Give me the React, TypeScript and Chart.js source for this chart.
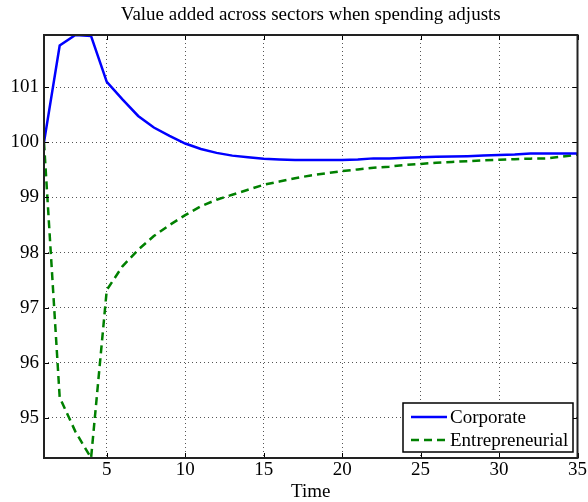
import React, { useEffect, useRef } from "react";
import { Chart, registerables } from "chart.js";

Chart.register(...registerables);

const TITLE = "Value added across sectors when spending adjusts";
const X_LABEL = "Time";
const periods = Array.from({ length: 35 }, (_, i) => i + 1);
const corporate = [
  100, 101.76, 101.95, 101.93, 101.1, 100.78, 100.48, 100.27, 100.12, 99.98,
  99.88, 99.81, 99.76, 99.73, 99.705, 99.69, 99.68, 99.68, 99.68, 99.68,
  99.69, 99.71, 99.71, 99.72, 99.73, 99.74, 99.745, 99.75, 99.76, 99.77,
  99.78, 99.8, 99.8, 99.8, 99.8,
];
const entrepreneurial = [
  100, 95.37, 94.75, 94.27, 97.32, 97.75, 98.05, 98.3, 98.5, 98.68,
  98.84, 98.96, 99.05, 99.14, 99.23, 99.29, 99.35, 99.4, 99.44, 99.48,
  99.51, 99.54, 99.56, 99.59, 99.61, 99.63, 99.645, 99.66, 99.675, 99.685,
  99.695, 99.705, 99.71, 99.74, 99.78,
];
const xTicks = [5, 10, 15, 20, 25, 30, 35];
const yTicks = [95, 96, 97, 98, 99, 100, 101];
const Y_MIN = 94.27;
const Y_MAX = 101.95;

const FONT = "'Liberation Serif', 'Times New Roman', serif";
const FS = 19;

const framePlugin = {
  id: "frame",
  afterDatasetsDraw(chart: any) {
    const { ctx, chartArea: a, scales } = chart;
    ctx.save();
    // inward tick marks
    ctx.strokeStyle = "#000";
    ctx.lineWidth = 1;
    ctx.setLineDash([]);
    const tl = 5;
    for (const v of xTicks) {
      const x = Math.round(scales.x.getPixelForValue(v)) + 0.5;
      ctx.beginPath();
      ctx.moveTo(x, a.bottom);
      ctx.lineTo(x, a.bottom - tl);
      ctx.moveTo(x, a.top);
      ctx.lineTo(x, a.top + tl);
      ctx.stroke();
    }
    for (const v of yTicks) {
      const y = Math.round(scales.y.getPixelForValue(v)) + 0.5;
      ctx.beginPath();
      ctx.moveTo(a.left, y);
      ctx.lineTo(a.left + tl, y);
      ctx.moveTo(a.right, y);
      ctx.lineTo(a.right - tl, y);
      ctx.stroke();
    }
    // frame
    ctx.lineWidth = 2;
    ctx.strokeStyle = "#222";
    ctx.strokeRect(a.left, a.top, a.right - a.left, a.bottom - a.top);

    // legend
    const bx = 403, by = 403, bw = 170, bh = 49;
    ctx.fillStyle = "#fff";
    ctx.fillRect(bx, by, bw, bh);
    ctx.lineWidth = 1.5;
    ctx.strokeStyle = "#000";
    ctx.strokeRect(bx, by, bw, bh);
    const rows = [
      { y: 417, ds: chart.data.datasets[0] },
      { y: 440, ds: chart.data.datasets[1] },
    ];
    ctx.font = `${FS}px ${FONT}`;
    ctx.textBaseline = "middle";
    ctx.textAlign = "left";
    for (const r of rows) {
      ctx.strokeStyle = r.ds.borderColor;
      ctx.lineWidth = 2.5;
      ctx.setLineDash(r.ds.borderDash || []);
      ctx.beginPath();
      ctx.moveTo(411, r.y);
      ctx.lineTo(447, r.y);
      ctx.stroke();
      ctx.setLineDash([]);
      ctx.fillStyle = "#000";
      ctx.fillText(r.ds.label, 450, r.y + 1);
    }

    // title and x label
    const cx = (a.left + a.right) / 2;
    ctx.textAlign = "center";
    ctx.textBaseline = "alphabetic";
    ctx.font = `${FS}px ${FONT}`;
    ctx.fillText(TITLE, cx, 20);
    ctx.fillText(X_LABEL, cx, 497);
    ctx.restore();
  },
};

export default function App() {
  const ref = useRef<HTMLCanvasElement | null>(null);
  useEffect(() => {
    document.body.style.margin = "0";
    const canvas = ref.current;
    if (!canvas) return;
    const chart = new Chart(canvas, {
      type: "line",
      data: {
        labels: periods,
        datasets: [
          {
            label: "Corporate",
            data: periods.map((p, i) => ({ x: p, y: corporate[i] })),
            borderColor: "#0000ff",
            borderWidth: 2.5,
            pointRadius: 0,
            tension: 0,
            fill: false,
          },
          {
            label: "Entrepreneurial",
            data: periods.map((p, i) => ({ x: p, y: entrepreneurial[i] })),
            borderColor: "#008000",
            borderWidth: 2.5,
            borderDash: [8, 5],
            pointRadius: 0,
            tension: 0,
            fill: false,
          },
        ],
      },
      options: {
        animation: false,
        responsive: false,
        maintainAspectRatio: false,
        layout: { padding: { top: 35, right: 8, left: 0, bottom: 0 } },
        plugins: {
          legend: { display: false },
          title: { display: false },
          tooltip: { enabled: false },
        },
        scales: {
          x: {
            type: "linear",
            min: 1,
            max: 35,
            afterBuildTicks: (s: any) => {
              s.ticks = xTicks.map((v) => ({ value: v }));
            },
            afterFit: (s: any) => {
              s.height = 44;
            },
            ticks: {
              color: "#000",
              font: { family: FONT, size: FS },
              padding: 1,
              maxRotation: 0,
              autoSkip: false,
            },
            grid: {
              color: "#555",
              lineWidth: 1,
              drawTicks: false,
            },
            border: { display: false, dash: [1, 3] },
          },
          y: {
            type: "linear",
            min: Y_MIN,
            max: Y_MAX,
            afterBuildTicks: (s: any) => {
              s.ticks = yTicks.map((v) => ({ value: v }));
            },
            afterFit: (s: any) => {
              s.width = 44;
            },
            ticks: {
              color: "#000",
              font: { family: FONT, size: FS },
              padding: 5,
              autoSkip: false,
            },
            grid: {
              color: "#555",
              lineWidth: 1,
              drawTicks: false,
            },
            border: { display: false, dash: [1, 3] },
          },
        },
      },
      plugins: [framePlugin],
    });
    return () => chart.destroy();
  }, []);
  return (
    <div style={{ width: 588, height: 502, position: "relative", background: "#fff" }}>
      <canvas ref={ref} width={588} height={502} style={{ display: "block" }} />
    </div>
  );
}
